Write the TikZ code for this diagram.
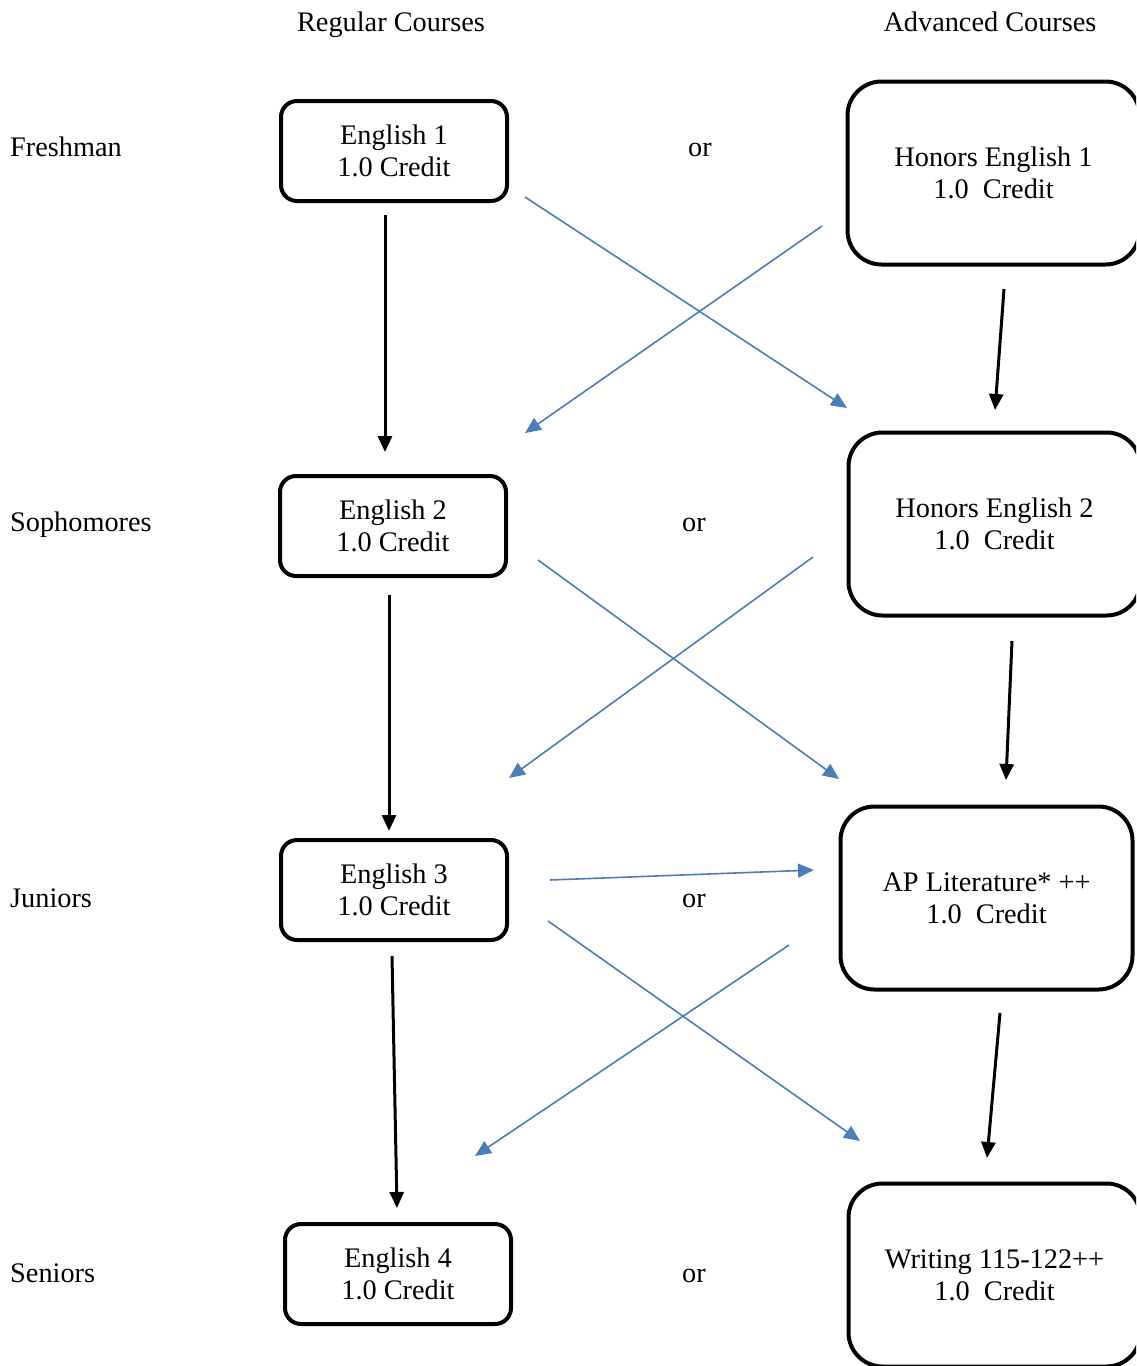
\documentclass[tikz,border=0pt]{standalone}
\usepackage{fontspec}
\setmainfont{Liberation Serif}
\usetikzlibrary{arrows.meta}
\definecolor{officeblue}{HTML}{4A7EBB}
\begin{document}
\begin{tikzpicture}[x=1pt,y=-1pt,
  every node/.style={font=\fontsize{28.3}{32}\selectfont},
  smallbox/.style={draw, line width=4pt, rounded corners=16pt, minimum width=226pt, minimum height=100pt, inner sep=0pt, align=center},
  bigbox/.style={draw, line width=4pt, rounded corners=34pt, minimum width=292pt, minimum height=183pt, inner sep=0pt, align=center},
  lbl/.style={anchor=west, inner sep=0pt, text height=0.7em, text depth=0.22em},
  hdr/.style={inner sep=0pt, text height=0.7em, text depth=0.22em},
  blackarrow/.style={line width=3pt, -{Triangle[length=16pt,width=14pt]}},
  bluearrow/.style={officeblue, line width=1.6pt, -{Triangle[length=16pt,width=14pt]}}
]
\useasboundingbox (0,0) rectangle (1136,1366);
\clip (0,0) rectangle (1136,1366);

% headers
\node[hdr] (hreg) at (391,29) {Regular Courses};
\node[hdr] (hadv) at (990,29) {Advanced Courses};

% row labels
\node[lbl] (lfr) at (10,154) {Freshman};
\node[lbl] (lso) at (10,529) {Sophomores};
\node[lbl] (lju) at (10,905) {Juniors};
\node[lbl] (lse) at (10,1280) {Seniors};

% or
\node (or1) at (700,150) {or};
\node (or2) at (694,525) {or};
\node (or3) at (694,901) {or};
\node (or4) at (694,1276) {or};

% left boxes
\node[smallbox] (e1) at (394,151) {English 1\\1.0 Credit};
\node[smallbox] (e2) at (393,526) {English 2\\1.0 Credit};
\node[smallbox] (e3) at (394,890) {English 3\\1.0 Credit};
\node[smallbox] (e4) at (398,1274) {English 4\\1.0 Credit};

% right boxes
\node[bigbox] (h1) at (993.5,173) {Honors English 1\\1.0\ \ Credit};
\node[bigbox] (h2) at (994.5,524) {Honors English 2\\1.0\ \ Credit};
\node[bigbox] (ap) at (986.5,898) {AP Literature* ++\\1.0\ \ Credit};
\node[bigbox] (wr) at (994.5,1275) {Writing 115-122++\\1.0\ \ Credit};

% coordinates for arrow ends
\coordinate (a1s) at (385,215);  \coordinate (a1e) at (385,452);
\coordinate (a2s) at (1004,289); \coordinate (a2e) at (995,410);
\coordinate (a3s) at (389,595);  \coordinate (a3e) at (389,831);
\coordinate (a4s) at (1012,641); \coordinate (a4e) at (1006,780);
\coordinate (a5s) at (392,956);  \coordinate (a5e) at (397,1208);
\coordinate (a6s) at (1000,1013);\coordinate (a6e) at (987,1158);

\coordinate (b1s) at (525,197);  \coordinate (b1e) at (847,408);
\coordinate (b2s) at (822,226);  \coordinate (b2e) at (525,433);
\coordinate (b3s) at (538,560);  \coordinate (b3e) at (839,779);
\coordinate (b4s) at (813,557);  \coordinate (b4e) at (509,778);
\coordinate (b5s) at (550,880);  \coordinate (b5e) at (814,870);
\coordinate (b6s) at (548,921);  \coordinate (b6e) at (860,1141);
\coordinate (b7s) at (789,945);  \coordinate (b7e) at (475,1156);

\draw[blackarrow] (a1s) -- (a1e);
\draw[blackarrow] (a2s) -- (a2e);
\draw[blackarrow] (a3s) -- (a3e);
\draw[blackarrow] (a4s) -- (a4e);
\draw[blackarrow] (a5s) -- (a5e);
\draw[blackarrow] (a6s) -- (a6e);

\draw[bluearrow] (b1s) -- (b1e);
\draw[bluearrow] (b2s) -- (b2e);
\draw[bluearrow] (b3s) -- (b3e);
\draw[bluearrow] (b4s) -- (b4e);
\draw[bluearrow] (b5s) -- (b5e);
\draw[bluearrow] (b6s) -- (b6e);
\draw[bluearrow] (b7s) -- (b7e);
\end{tikzpicture}
\end{document}
